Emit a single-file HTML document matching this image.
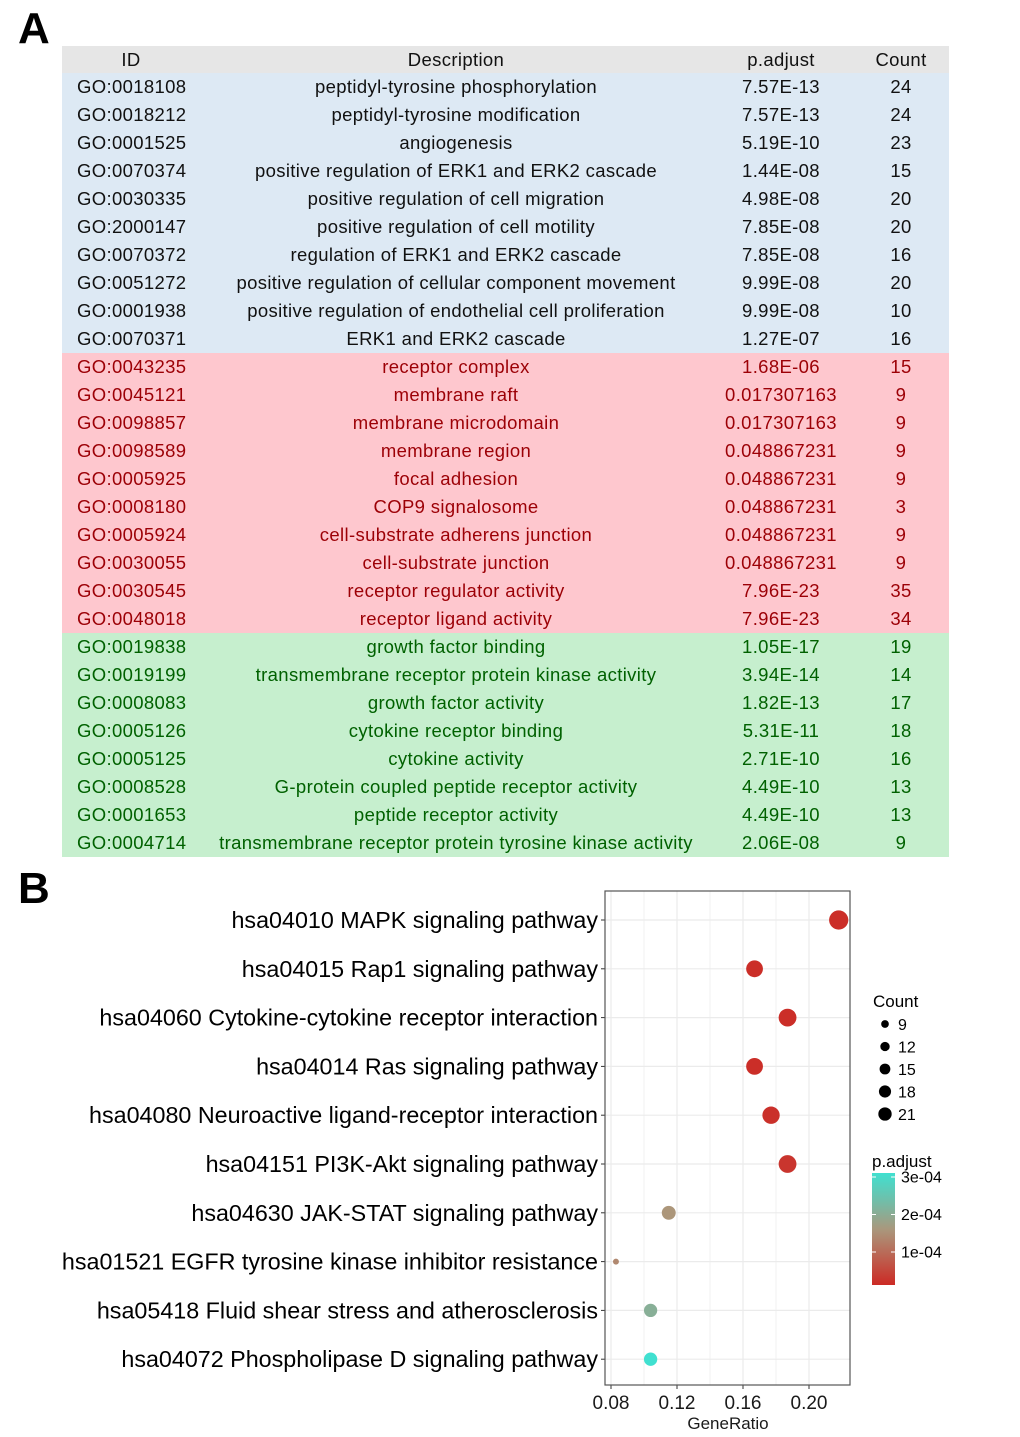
<!DOCTYPE html>
<html><head><meta charset="utf-8"><style>
body{margin:0;width:1020px;height:1437px;background:#fff;position:relative;overflow:hidden;font-family:"Liberation Sans",sans-serif}
.lbl{position:absolute;font-weight:bold;font-size:44px;color:#000}
#tbl{position:absolute;left:62px;top:46px;width:887px}
.r{position:relative;height:28px;font-size:18.5px;letter-spacing:0.35px;line-height:28px;white-space:nowrap}
.r span{position:absolute;top:0}
.c1{left:15px}.c2{left:394px;transform:translateX(-50%)}.c3{left:719px;transform:translateX(-50%)}.c4{left:839px;transform:translateX(-50%)}
.h{background:#e6e6e6;height:27px;line-height:27px;color:#111}.h .c1{left:69px;transform:translateX(-50%)}
.b{background:#dde9f4;color:#111}.p{background:#fec7ce;color:#9c0006}.g{background:#c6efce;color:#006100}
</style></head><body>
<div class="lbl" style="left:18px;top:4px">A</div>
<div class="lbl" style="left:18px;top:864px">B</div>
<div id="tbl"></div>
<svg id="chart" width="1020" height="1437" style="position:absolute;left:0;top:0"></svg>
<script>
const rows=[
["b","GO:0018108","peptidyl-tyrosine phosphorylation","7.57E-13","24"],
["b","GO:0018212","peptidyl-tyrosine modification","7.57E-13","24"],
["b","GO:0001525","angiogenesis","5.19E-10","23"],
["b","GO:0070374","positive regulation of ERK1 and ERK2 cascade","1.44E-08","15"],
["b","GO:0030335","positive regulation of cell migration","4.98E-08","20"],
["b","GO:2000147","positive regulation of cell motility","7.85E-08","20"],
["b","GO:0070372","regulation of ERK1 and ERK2 cascade","7.85E-08","16"],
["b","GO:0051272","positive regulation of cellular component movement","9.99E-08","20"],
["b","GO:0001938","positive regulation of endothelial cell proliferation","9.99E-08","10"],
["b","GO:0070371","ERK1 and ERK2 cascade","1.27E-07","16"],
["p","GO:0043235","receptor complex","1.68E-06","15"],
["p","GO:0045121","membrane raft","0.017307163","9"],
["p","GO:0098857","membrane microdomain","0.017307163","9"],
["p","GO:0098589","membrane region","0.048867231","9"],
["p","GO:0005925","focal adhesion","0.048867231","9"],
["p","GO:0008180","COP9 signalosome","0.048867231","3"],
["p","GO:0005924","cell-substrate adherens junction","0.048867231","9"],
["p","GO:0030055","cell-substrate junction","0.048867231","9"],
["p","GO:0030545","receptor regulator activity","7.96E-23","35"],
["p","GO:0048018","receptor ligand activity","7.96E-23","34"],
["g","GO:0019838","growth factor binding","1.05E-17","19"],
["g","GO:0019199","transmembrane receptor protein kinase activity","3.94E-14","14"],
["g","GO:0008083","growth factor activity","1.82E-13","17"],
["g","GO:0005126","cytokine receptor binding","5.31E-11","18"],
["g","GO:0005125","cytokine activity","2.71E-10","16"],
["g","GO:0008528","G-protein coupled peptide receptor activity","4.49E-10","13"],
["g","GO:0001653","peptide receptor activity","4.49E-10","13"],
["g","GO:0004714","transmembrane receptor protein tyrosine kinase activity","2.06E-08","9"]];
const T=document.getElementById('tbl');
let html='<div class="r h"><span class="c1">ID</span><span class="c2">Description</span><span class="c3">p.adjust</span><span class="c4">Count</span></div>';
rows.forEach(r=>{html+=`<div class="r ${r[0]}"><span class="c1">${r[1]}</span><span class="c2">${r[2]}</span><span class="c3">${r[3]}</span><span class="c4">${r[4]}</span></div>`;});
T.innerHTML=html;

const terms=["hsa04010 MAPK signaling pathway","hsa04015 Rap1 signaling pathway","hsa04060 Cytokine-cytokine receptor interaction","hsa04014 Ras signaling pathway","hsa04080 Neuroactive ligand-receptor interaction","hsa04151 PI3K-Akt signaling pathway","hsa04630 JAK-STAT signaling pathway","hsa01521 EGFR tyrosine kinase inhibitor resistance","hsa05418 Fluid shear stress and atherosclerosis","hsa04072 Phospholipase D signaling pathway"];
const geneRatio=[0.218,0.167,0.187,0.167,0.177,0.187,0.115,0.083,0.104,0.104];
const counts=[21,16,18,16,17,18,11,8,10,10];
const padj=[0.000005,0.000005,0.000005,0.000005,0.000008,0.000015,0.00015,0.00013,0.0002,0.0003];
const xTicks=[0.08,0.12,0.16,0.20];
const xTickLabels=["0.08","0.12","0.16","0.20"];
const legendCounts=[9,12,15,18,21];
const barTicks=[0.0003,0.0002,0.0001];
const barTickLabels=["3e-04","2e-04","1e-04"];

const S=document.getElementById('chart'),NS='http://www.w3.org/2000/svg';
function mk(t,a,p){const e=document.createElementNS(NS,t);for(const k in a)e.setAttribute(k,a[k]);(p||S).appendChild(e);return e;}
const L=605,R=850,Tp=891,B=1385;
const x=v=>611+(v-0.08)*1650;
const y=i=>920+i*48.8;
const rad=c=>Math.sqrt(c)*2.1;
const pmax=0.0003;
function col(p){const t=Math.min(1,p/pmax);const a=[204,42,37],m=[172,150,122],b=[64,224,208];
 let c;if(t<0.5){const u=t/0.5;c=a.map((v,k)=>v+(m[k]-v)*u);}else{const u=(t-0.5)/0.5;c=m.map((v,k)=>v+(b[k]-v)*u);}
 return `rgb(${c.map(Math.round).join(',')})`;}
mk('rect',{x:L,y:Tp,width:R-L,height:B-Tp,fill:'#fff'});
for(let i=0;i<xTicks.length-1;i++){const xv=(xTicks[i]+xTicks[i+1])/2;const g=mk('line',{x1:x(xv),x2:x(xv),y1:Tp,y2:B,stroke:'#f2f2f2','stroke-width':1});}
xTicks.forEach((v,i)=>{const g=mk('line',{x1:x(v),x2:x(v),y1:Tp,y2:B,stroke:'#ebebeb','stroke-width':1.2});
 mk('line',{x1:x(v),x2:x(v),y1:B,y2:B+4,stroke:'#333'});
 const t=mk('text',{x:x(v),y:1409,'font-size':19,'text-anchor':'middle',fill:'#1a1a1a'});t.textContent=xTickLabels[i];
 });
terms.forEach((s,i)=>{const g=mk('line',{x1:L,x2:R,y1:y(i),y2:y(i),stroke:'#ebebeb','stroke-width':1.2});
 mk('line',{x1:L-4,x2:L,y1:y(i),y2:y(i),stroke:'#333'});
 const t=mk('text',{x:598,y:y(i)+8,'font-size':23.3,'text-anchor':'end',fill:'#000'});t.textContent=s;
 });
const fr=mk('rect',{x:L,y:Tp,width:R-L,height:B-Tp,fill:'none',stroke:'#555','stroke-width':1.2});

terms.forEach((s,i)=>{const c=mk('circle',{cx:x(geneRatio[i]),cy:y(i),r:rad(counts[i])*(counts[i]<9?0.5:1),fill:col(padj[i])});
 });
const xt=mk('text',{x:728,y:1429,'font-size':17,'text-anchor':'middle',fill:'#1a1a1a'});xt.textContent='GeneRatio';

const ct=mk('text',{x:873,y:1007,'font-size':17,fill:'#000'});ct.textContent='Count';

legendCounts.forEach((c,i)=>{const yy=1024+i*22.5;const e=mk('circle',{cx:885,cy:yy,r:rad(c)*0.85-1.5,fill:'#000'});
 
 const t=mk('text',{x:898,y:yy+6,'font-size':16,fill:'#000'});t.textContent=c;});
const pt=mk('text',{x:872,y:1167,'font-size':17,fill:'#000'});pt.textContent='p.adjust';

const defs=mk('defs',{});const lg=mk('linearGradient',{id:'gb',x1:0,y1:1,x2:0,y2:0},defs);
const bt=1173,bb=1285,by=v=>1289.5-v*375000;
[0,0.25,0.5,0.75,1].forEach(f=>mk('stop',{offset:f,'stop-color':col(f*pmax*1.03)},lg));
const cb=mk('rect',{x:872,y:bt,width:23,height:bb-bt,fill:'url(#gb)'});

barTicks.forEach((v,i)=>{mk('line',{x1:872,x2:876,y1:by(v),y2:by(v),stroke:'#fff'});mk('line',{x1:891,x2:895,y1:by(v),y2:by(v),stroke:'#fff'});
 const t=mk('text',{x:901,y:by(v)+5.5,'font-size':16,fill:'#000'});t.textContent=barTickLabels[i];
 });
</script>
</body></html>
